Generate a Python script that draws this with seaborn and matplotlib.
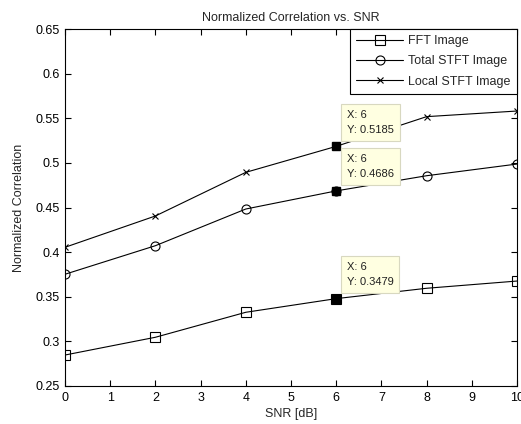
import matplotlib
matplotlib.use("Agg")
import matplotlib.pyplot as plt
import seaborn as sns
import pandas as pd
from matplotlib.ticker import FuncFormatter

# ---- data ----
snr_db = [0, 2, 4, 6, 8, 10]
fft_image = [0.2847, 0.3046, 0.3326, 0.3479, 0.3595, 0.3676]
total_stft_image = [0.3752, 0.4072, 0.4483, 0.4686, 0.4856, 0.4987]
local_stft_image = [0.4054, 0.4405, 0.4894, 0.5185, 0.5518, 0.5581]
series_names = ["FFT Image", "Total STFT Image", "Local STFT Image"]
series_markers = ["s", "o", "x"]
datatip_x = 6
x_ticks = list(range(0, 11))
y_ticks = [0.25, 0.30, 0.35, 0.40, 0.45, 0.50, 0.55, 0.60, 0.65]

title = "Normalized Correlation vs. SNR"
xlabel = "SNR [dB]"
ylabel = "Normalized Correlation"

sns.set_style("ticks")
plt.rcParams["font.family"] = ["Liberation Sans", "DejaVu Sans"]
plt.rcParams["font.size"] = 9

fig = plt.figure(figsize=(5.21, 4.24), dpi=100)
ax = fig.add_axes([65 / 521, 1 - 386 / 424, (517 - 65) / 521, (386 - 29) / 424])

all_vals = [fft_image, total_stft_image, local_stft_image]
for name, vals, mk in zip(series_names, all_vals, series_markers):
    df = pd.DataFrame({"x": snr_db, "y": vals})
    ms = 5 if mk == "x" else 6.5
    sns.lineplot(data=df, x="x", y="y", ax=ax, color="black", linewidth=0.8,
                 marker=mk, markersize=ms, markerfacecolor="none",
                 markeredgecolor="black", markeredgewidth=0.8, label=name,
                 zorder=3)

# data tips
for vals in all_vals:
    yv = vals[snr_db.index(datatip_x)]
    ax.plot([datatip_x], [yv], marker="s", markersize=5.5, color="black",
            linestyle="none", zorder=6)
    ax.annotate(f"X: {datatip_x}\nY: {yv:.4f}", xy=(datatip_x, yv),
                xytext=(7.5, 8.5), textcoords="offset points",
                ha="left", va="bottom", fontsize=8, color="#202020",
                linespacing=1.6,
                bbox=dict(boxstyle="square,pad=0.55", fc="#ffffe1",
                          ec="#d8d8c0", lw=0.8),
                zorder=7)

ax.set_xlim(0, 10)
ax.set_ylim(0.25, 0.65)
ax.set_xticks(x_ticks)
ax.set_yticks(y_ticks)
ax.yaxis.set_major_formatter(FuncFormatter(lambda v, p: f"{v:.2f}".rstrip("0")))
ax.tick_params(direction="in", top=True, right=True, length=4, width=0.8,
               labelsize=9, colors="black", pad=4)
for s in ax.spines.values():
    s.set_visible(True)
    s.set_color("black")
    s.set_linewidth(0.8)

ax.set_title(title, fontsize=9, pad=6)
ax.set_xlabel(xlabel, fontsize=9, labelpad=3)
ax.set_ylabel(ylabel, fontsize=9, labelpad=7)

leg = ax.legend(loc="upper right", borderaxespad=0, fancybox=False,
                edgecolor="black", framealpha=1, fontsize=9, handlelength=3.8,
                labelspacing=0.65, handletextpad=0.4, borderpad=0.5)
leg.get_frame().set_linewidth(0.8)
leg.set_zorder(8)

fig.savefig("out.png", dpi=100)
